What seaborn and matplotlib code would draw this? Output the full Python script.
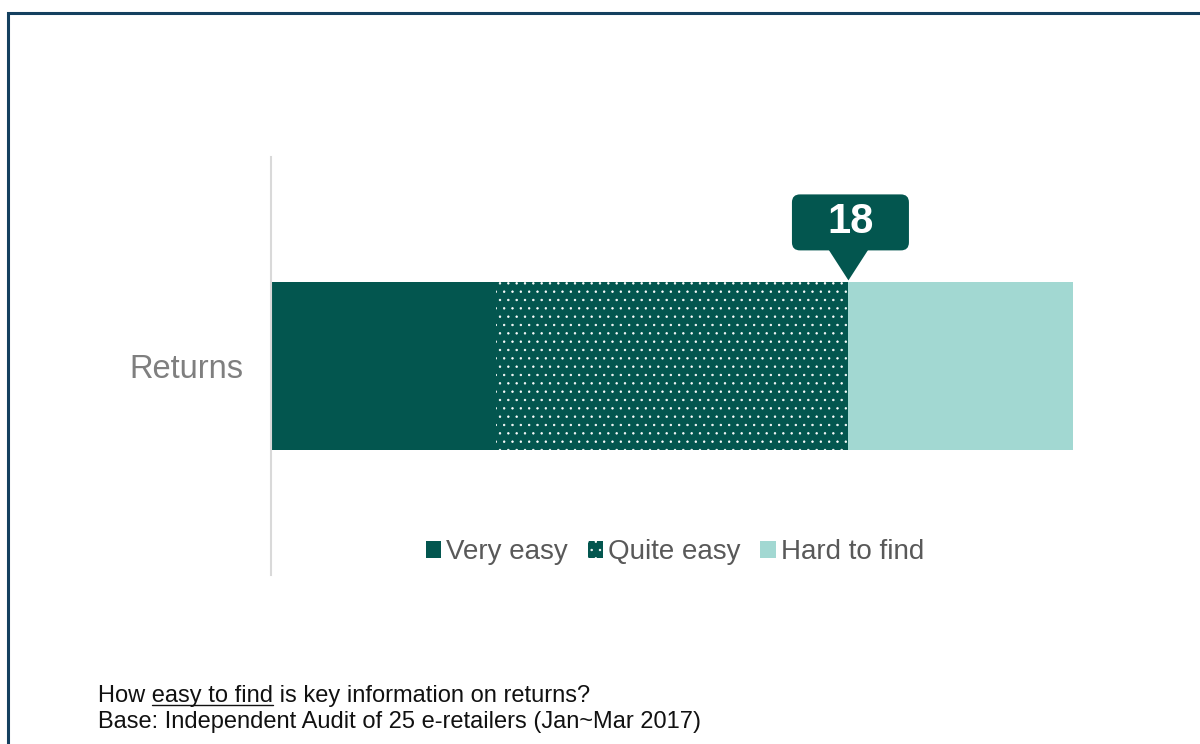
import numpy as np
import pandas as pd
import matplotlib
matplotlib.use("Agg")
import matplotlib.pyplot as plt
import matplotlib.patches as mpatches
import matplotlib.transforms as mtransforms
from matplotlib.lines import Line2D
from matplotlib.font_manager import FontProperties
import seaborn as sns

# Audit of 25 e-retailers: how easy is returns information to find
categories = ["Returns"]
levels = ["Very easy", "Quite easy", "Hard to find"]
counts = [7, 11, 7]
level_colors = ["#03564F", "#03564F", "#A2D8D2"]
level_hatches = [None, "..", None]
question_lead = "How "
question_key = "easy to find"
question_tail = " is key information on returns?"
base_note = "Base: Independent Audit of 25 e-retailers (Jan~Mar 2017)"

sns.set_theme(style="white")
plt.rcParams["font.family"] = ["Liberation Sans", "DejaVu Sans"]
plt.rcParams["hatch.linewidth"] = 0.5

W, H = 1200, 744
fig = plt.figure(figsize=(W / 100, H / 100), dpi=100)
fig.patch.set_facecolor("white")
ax = fig.add_axes([271 / W, 1 - 575 / H, 802 / W, 418 / H])

# stacked bars: draw cumulative totals from longest to shortest
cum = np.cumsum(counts)
bar_patches = {}
for i in reversed(range(len(levels))):
    df = pd.DataFrame({"category": categories, "value": [cum[i]]})
    n_before = len(ax.patches)
    sns.barplot(data=df, x="value", y="category", color=level_colors[i],
                saturation=1, orient="h", width=0.8, ax=ax, linewidth=0)
    bar_patches[i] = ax.patches[n_before:]

for p in bar_patches[1]:
    p.set_hatch(level_hatches[1])
    p.set_edgecolor("white")
    p.set_linewidth(0)

ax.set_xlim(0, cum[-1])
ax.set_ylim(1, -1)
ax.set_xticks([])
ax.set_xlabel("")
ax.set_ylabel("")
for s in ["top", "right", "bottom"]:
    ax.spines[s].set_visible(False)
ax.spines["left"].set_color("#D9D9D9")
ax.spines["left"].set_linewidth(1.5)
ax.tick_params(axis="y", length=0, pad=20, labelsize=23.5, labelcolor="#7F7F7F")
ax.set_facecolor("white")

# legend
handles = []
for c, h in zip(level_colors, level_hatches):
    handles.append(mpatches.Patch(facecolor=c, edgecolor="white" if h else c,
                                  hatch=h, linewidth=0))
fig.legend(handles, levels, loc="center", bbox_to_anchor=(675 / W, 1 - 552 / H),
           ncol=3, frameon=False, fontsize=20, labelcolor="#595959",
           handlelength=0.55, handleheight=0.55, handletextpad=0.2,
           columnspacing=0.7, borderpad=0, borderaxespad=0)

# callout marking the cumulative "easy" count
easy_total = int(cum[1])
tip_x, tip_y = ax.transData.transform((easy_total, -0.4))
tip_y += 2
px = mtransforms.IdentityTransform()
callout_color = "#03564F"
tri = mpatches.Polygon([(tip_x, tip_y), (tip_x - 20, tip_y + 31), (tip_x + 20, tip_y + 31)],
                       closed=True, facecolor=callout_color, edgecolor="none", transform=px)
box_w, box_h = 117, 56
box = mpatches.FancyBboxPatch((tip_x - box_w / 2 + 2, tip_y + 30), box_w, box_h,
                              boxstyle="round,pad=0,rounding_size=8",
                              facecolor=callout_color, edgecolor="none", transform=px)
fig.add_artist(tri)
fig.add_artist(box)
fig.text(tip_x + 2, tip_y + 30 + box_h / 2, str(easy_total), transform=px,
         ha="center", va="center", fontsize=30, fontweight="bold", color="white")

# footer notes
foot_size = 17
x0, base1, base2 = 98, H - 702, H - 728
fig.text(x0, base1, question_lead + question_key + question_tail, transform=px,
         ha="left", va="baseline", fontsize=foot_size, color="#111111")
fig.text(x0, base2, base_note, transform=px,
         ha="left", va="baseline", fontsize=foot_size, color="#111111")
renderer = fig.canvas.get_renderer()
fp = FontProperties(family=["Liberation Sans"], size=foot_size)
w_upto, _, _ = renderer.get_text_width_height_descent(question_lead + question_key, fp, ismath=False)
w_key, _, _ = renderer.get_text_width_height_descent(question_key, fp, ismath=False)
fig.add_artist(Line2D([x0 + w_upto - w_key, x0 + w_upto], [base1 - 3, base1 - 3],
                      color="#111111", linewidth=1.0, transform=px))

# outer frame
fig.add_artist(mpatches.Rectangle((8 / W, -0.1), 1.2, (1 - 13 / H) + 0.1,
                                  transform=fig.transFigure, fill=False,
                                  edgecolor="#14405F", linewidth=2.2))

fig.savefig("out.png", dpi=100, facecolor="white")
